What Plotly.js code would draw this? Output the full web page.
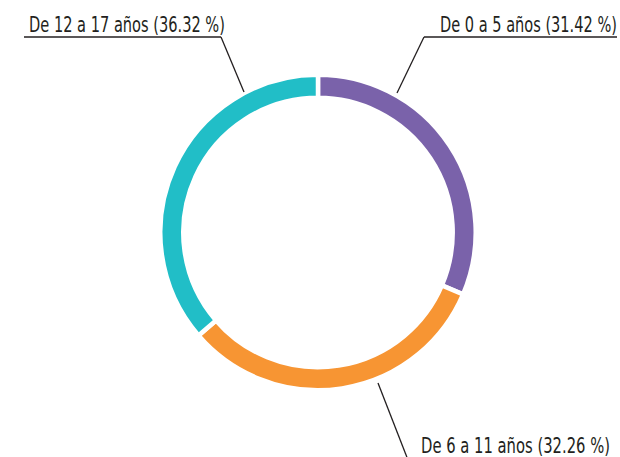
<!DOCTYPE html>
<html><head><meta charset="utf-8">
<script src="https://cdn.plot.ly/plotly-3.0.1.min.js"></script>
<style>html,body{margin:0;padding:0;background:#fff}#chart{width:620px;height:457px}</style>
</head><body><div id="chart"></div>
<script>
const categories = ["De 0 a 5 años", "De 6 a 11 años", "De 12 a 17 años"];
const values = [31.42, 32.26, 36.32];
const colors = ["#7a62aa", "#f79533", "#21bec7"];

const W = 620, H = 457;
const px = x => x / W, py = y => 1 - y / H;
const labelText = categories.map((c, i) => c + " (" + values[i].toFixed(2) + " %)");
const FONT = {family: "DejaVu Sans", size: 20.5, color: "#231f20"};

const labelPos = [
  {x: 438, y: 25, w: 177, line: [[617,37],[424,37],[397,93]]},
  {x: 419, y: 446, w: 189, line: [[378,383],[408,460]]},
  {x: 27, y: 25, w: 196, line: [[24,37],[221,37],[244,92]]}
];

const annotations = labelText.map((t, i) => ({
  xref: "paper", yref: "paper", x: px(labelPos[i].x), y: py(labelPos[i].y),
  xanchor: "left", yanchor: "middle", text: t, showarrow: false, font: FONT
}));

const shapes = [];
labelPos.forEach(p => {
  const pts = p.line;
  for (let k = 0; k < pts.length - 1; k++) {
    shapes.push({type: "line", xref: "paper", yref: "paper",
      x0: px(pts[k][0]), y0: py(pts[k][1]), x1: px(pts[k+1][0]), y1: py(pts[k+1][1]),
      line: {color: "#231f20", width: 1.3}});
  }
});

const trace = {
  type: "pie", labels: categories, values: values, sort: false,
  direction: "clockwise", rotation: 0, hole: 0.854,
  marker: {colors: colors, line: {color: "#ffffff", width: 4.5}},
  textinfo: "none", hoverinfo: "label+percent", showlegend: false,
  domain: {x: [0.2585, 0.7673], y: [0.1461, 0.8364]}
};

Plotly.newPlot("chart", [trace], {
  width: W, height: H, margin: {l: 0, r: 0, t: 0, b: 0},
  paper_bgcolor: "#fff", plot_bgcolor: "#fff",
  annotations: annotations, shapes: shapes, showlegend: false
}, {displayModeBar: false, staticPlot: true}).then(gd => {
  // condense label text horizontally to mimic the narrow typeface of the original
  gd.querySelectorAll("g.annotation").forEach(g => {
    const i = +g.getAttribute("data-index");
    const txt = g.querySelector("text.annotation-text");
    if (!txt || !labelPos[i]) return;
    const bb = txt.getBBox();
    const s = labelPos[i].w / bb.width;
    txt.setAttribute("transform", `translate(${bb.x},0) scale(${s},1) translate(${-bb.x},0)`);
  });
});
</script></body></html>
